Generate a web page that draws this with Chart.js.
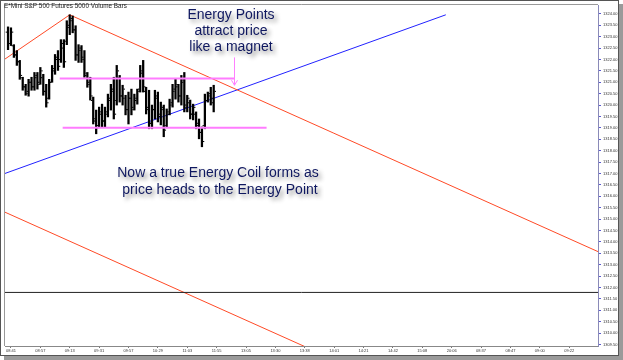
<!DOCTYPE html>
<html>
<head>
<meta charset="utf-8">
<script src="https://cdn.jsdelivr.net/npm/chart.js@4.4.1/dist/chart.umd.min.js"></script>
<style>
html, body { margin: 0; padding: 0; background: #fff; }
#wrap { width: 623px; height: 360px; }
</style>
</head>
<body>
<div id="wrap"><canvas id="chart" width="623" height="360"></canvas></div>
<script>
// Time labels on the x axis and the bar index each one sits at
const timeLabels = ['08:41', '08:57', '09:13', '09:31', '09:57', '10:29', '11:03', '11:55', '13:05', '13:30',
    '13:38', '14:01', '14:21', '14:42', '15:08', '20:06', '08:37', '08:47', '09:00', '09:22'];
const labelBars = [1, 11, 21, 31, 41, 51, 61, 71, 81, 91, 101, 111, 121, 131, 141, 151, 161, 171, 181, 191];

// 5000 volume bars
const highs = [1323.43, 1323.39, 1322.65, 1322.39, 1321.96, 1321.22, 1320.91, 1321.13, 1321.22, 1321.43,
    1321.43, 1321.65, 1321.35, 1320.91, 1321.13, 1321.74, 1322.22, 1322.39, 1322.87, 1322.87,
    1323.70, 1323.96, 1323.91, 1323.48, 1322.65, 1322.61, 1322.39, 1321.43, 1321.22, 1320.35,
    1319.78, 1319.91, 1320.04, 1319.91, 1320.48, 1320.91, 1321.22, 1321.74, 1321.30, 1320.87,
    1320.43, 1320.57, 1320.70, 1320.48, 1320.70, 1321.74, 1321.96, 1320.78, 1320.65, 1320.00,
    1320.65, 1320.57, 1320.13, 1320.00, 1319.83, 1320.26, 1320.91, 1321.13, 1320.91, 1321.30,
    1321.43, 1320.43, 1320.22, 1320.04, 1319.70, 1319.39, 1319.04, 1320.48, 1320.57, 1320.78, 1320.87];
const lows = [1322.43, 1322.61, 1322.09, 1321.74, 1321.13, 1320.65, 1320.43, 1320.39, 1320.65, 1320.65,
    1320.70, 1320.91, 1320.43, 1319.91, 1320.26, 1321.00, 1321.35, 1321.52, 1321.87, 1321.65,
    1322.65, 1323.09, 1323.17, 1321.96, 1321.87, 1321.87, 1321.22, 1320.78, 1320.22, 1319.17,
    1318.74, 1319.04, 1319.04, 1319.04, 1319.48, 1319.78, 1319.39, 1320.00, 1320.13, 1320.00,
    1319.57, 1319.17, 1319.57, 1319.78, 1320.04, 1320.57, 1320.57, 1319.61, 1318.96, 1318.96,
    1319.39, 1319.26, 1319.13, 1318.61, 1319.04, 1319.57, 1319.91, 1320.26, 1320.13, 1320.00,
    1319.70, 1319.70, 1319.39, 1319.35, 1318.96, 1318.52, 1318.17, 1318.96, 1320.13, 1320.00, 1319.70];
const opens = [1323.2, 1322.7, 1322.6, 1322.2, 1321.9, 1321.2, 1320.8, 1320.5, 1321.0, 1320.8,
    1321.2, 1321.0, 1321.2, 1320.6, 1320.3, 1321.0, 1321.5, 1322.0, 1322.0, 1322.5,
    1322.8, 1323.4, 1323.7, 1323.3, 1322.2, 1322.4, 1322.1, 1321.3, 1321.0, 1320.2,
    1319.3, 1319.1, 1319.6, 1319.3, 1319.6, 1320.2, 1320.6, 1320.2, 1321.2, 1320.4,
    1320.3, 1319.8, 1320.3, 1319.9, 1320.2, 1320.7, 1321.4, 1320.6, 1319.9, 1319.2,
    1319.8, 1320.3, 1319.6, 1319.8, 1319.1, 1319.7, 1320.0, 1320.6, 1320.8, 1320.4,
    1321.0, 1320.0, 1320.1, 1319.6, 1319.6, 1319.2, 1318.8, 1319.1, 1320.2, 1320.4, 1320.3];
const closes = [1322.7, 1323.2, 1322.2, 1321.9, 1321.3, 1320.8, 1320.6, 1321.0, 1320.8, 1321.3,
    1320.9, 1321.5, 1320.6, 1320.1, 1321.0, 1321.6, 1322.1, 1321.7, 1322.7, 1321.9,
    1323.5, 1323.8, 1323.3, 1322.2, 1322.5, 1322.0, 1321.4, 1320.9, 1320.4, 1319.4,
    1319.0, 1319.7, 1319.3, 1319.7, 1320.3, 1320.7, 1319.6, 1321.5, 1320.4, 1320.7,
    1319.8, 1320.3, 1319.8, 1320.3, 1320.6, 1321.5, 1320.8, 1319.8, 1319.2, 1319.8,
    1320.4, 1319.5, 1319.9, 1318.9, 1319.6, 1320.1, 1320.7, 1320.9, 1320.4, 1321.1,
    1319.9, 1320.3, 1319.6, 1319.9, 1319.1, 1318.8, 1318.4, 1320.2, 1320.5, 1320.1, 1320.6];

// Drawn lines: [bar index, price] end points
const redRising = [[-1.03, 1322.02], [21.0, 1323.96]];
const redFalling = [[21.0, 1323.96], [200.8, 1313.57]];
const redLower = [[-1.03, 1315.30], [130, 1307.73]];
const blueLine = [[-1.03, 1317.00], [149.0, 1323.96]];
const pinkUpper = [[17.6, 1321.17], [76.9, 1321.17]];
const pinkLower = [[18.6, 1319.00], [88.0, 1319.00]];
const blackLine = [[-1.03, 1311.78], [200.8, 1311.78]];
const arrowLine = [[76.9, 1322.09], [76.9, 1320.87]];

const xMin = -1.03, xMax = 200.8;
const yMin = 1309.43, yMax = 1324.39;

function toPoints(pairs) {
    return pairs.map(p => ({ x: p[0], y: p[1] }));
}

function lineSet(pairs, color, width) {
    return {
        type: 'line',
        data: toPoints(pairs),
        borderColor: color,
        borderWidth: width,
        pointRadius: 0,
        fill: false,
        tension: 0
    };
}

// frame, arrow and text notes
const notesPlugin = {
    id: 'notes',
    beforeDraw(chart) {
        const ctx = chart.ctx;
        ctx.save();
        ctx.fillStyle = '#fff';
        ctx.fillRect(0, 0, chart.width, chart.height);
        ctx.fillStyle = '#9a9a9a';
        ctx.fillRect(619, 4, 4, 356);
        ctx.fillRect(4, 356, 619, 4);
        ctx.strokeStyle = '#555';
        ctx.lineWidth = 1;
        ctx.strokeRect(0.5, 0.5, 618, 355);
        const a = chart.chartArea;
        ctx.strokeStyle = '#999';
        ctx.beginPath();
        ctx.moveTo(a.left - 0.5, a.bottom);
        ctx.lineTo(a.left - 0.5, a.top - 0.5);
        ctx.lineTo(a.right, a.top - 0.5);
        ctx.stroke();
        ctx.restore();
    },
    afterDatasetsDraw(chart) {
        const ctx = chart.ctx;
        const xs = chart.scales.x, ys = chart.scales.y;
        ctx.save();

        // pink arrow pointing at the energy point
        const ax = Math.round(xs.getPixelForValue(arrowLine[0][0])) + 0.5;
        const ay1 = ys.getPixelForValue(arrowLine[0][1]);
        const ay2 = ys.getPixelForValue(arrowLine[1][1]);
        ctx.strokeStyle = '#ff80ff';
        ctx.lineWidth = 1;
        ctx.beginPath();
        ctx.moveTo(ax, ay1);
        ctx.lineTo(ax, ay2);
        ctx.moveTo(ax - 3, ay2 - 5);
        ctx.lineTo(ax, ay2);
        ctx.lineTo(ax + 3, ay2 - 5);
        ctx.stroke();

        // title
        ctx.fillStyle = '#222';
        ctx.font = '7px "Liberation Sans", Arial, sans-serif';
        ctx.textBaseline = 'alphabetic';
        ctx.textAlign = 'left';
        ctx.fillText('E*Mini S&P 500 Futures 5000 Volume Bars', 4, 8, 123);

        // notes with soft shadow
        ctx.shadowColor = 'rgba(0,0,0,0.45)';
        ctx.shadowBlur = 4;
        ctx.shadowOffsetX = 3;
        ctx.shadowOffsetY = 3;
        ctx.fillStyle = '#0f1860';
        ctx.font = '14px "Liberation Sans", Arial, sans-serif';
        ctx.textAlign = 'center';
        ctx.textBaseline = 'middle';
        ctx.fillText('Energy Points', 231, 15);
        ctx.fillText('attract price', 231, 31);
        ctx.fillText('like a magnet', 231, 47);
        ctx.fillText('Now a true Energy Coil forms as', 218, 173);
        ctx.fillText('price heads to the Energy Point', 220, 190);
        ctx.restore();
    }
};

const barData = highs.map((h, i) => ({ x: i, y: [lows[i], h] }));
const openData = opens.map((v, i) => ({ x: i - 0.55, y: v }));
const closeData = closes.map((v, i) => ({ x: i + 0.55, y: v }));

const tickFont = { size: 4, family: '"Liberation Sans", Arial, sans-serif' };

new Chart(document.getElementById('chart'), {
    type: 'bar',
    data: {
        datasets: [
            lineSet(blackLine, '#222', 1),
            lineSet(pinkUpper, '#ff7cff', 2),
            lineSet(pinkLower, '#ff7cff', 2),
            {
                type: 'bar',
                data: barData,
                backgroundColor: '#000',
                barThickness: 1.6,
                borderWidth: 0
            },
            {
                type: 'line',
                data: openData,
                showLine: false,
                pointStyle: 'line',
                pointRadius: 0.7,
                pointBorderWidth: 1,
                pointBorderColor: '#000'
            },
            {
                type: 'line',
                data: closeData,
                showLine: false,
                pointStyle: 'line',
                pointRadius: 0.7,
                pointBorderWidth: 1,
                pointBorderColor: '#000'
            },
            lineSet(redRising, '#ff4a26', 1),
            lineSet(redFalling, '#ff4a26', 1),
            lineSet(redLower, '#ff4a26', 1),
            lineSet(blueLine, '#2222ff', 1)
        ]
    },
    options: {
        responsive: false,
        animation: false,
        devicePixelRatio: 1,
        layout: { padding: { left: 2, top: 2, right: 3, bottom: 5 } },
        plugins: {
            legend: { display: false },
            tooltip: { enabled: false },
            title: { display: false }
        },
        scales: {
            x: {
                type: 'linear',
                min: xMin,
                max: xMax,
                offset: false,
                grid: { display: true, drawOnChartArea: false, offset: false, tickLength: 2, color: '#777' },
                border: { color: '#888' },
                afterBuildTicks: scale => {
                    scale.ticks = labelBars.map(v => ({ value: v }));
                },
                afterFit: scale => { scale.height = 9; },
                ticks: {
                    autoSkip: false,
                    maxRotation: 0,
                    padding: 0,
                    color: '#333',
                    font: tickFont,
                    callback: (value, index) => timeLabels[index]
                }
            },
            y: {
                type: 'linear',
                position: 'right',
                min: yMin,
                max: yMax,
                grid: { display: true, drawOnChartArea: false, tickLength: 3, color: '#5a5ad0' },
                border: { color: '#8a8ab8', dash: [1, 1] },
                afterBuildTicks: scale => {
                    const t = [];
                    for (let v = 1309.5; v <= 1324.001; v += 0.5) t.push({ value: v });
                    scale.ticks = t;
                },
                afterFit: scale => { scale.width = 22; },
                ticks: {
                    autoSkip: false,
                    padding: 2,
                    color: '#333',
                    font: tickFont,
                    callback: value => value.toFixed(2)
                }
            }
        }
    },
    plugins: [notesPlugin]
});
</script>
</body>
</html>
